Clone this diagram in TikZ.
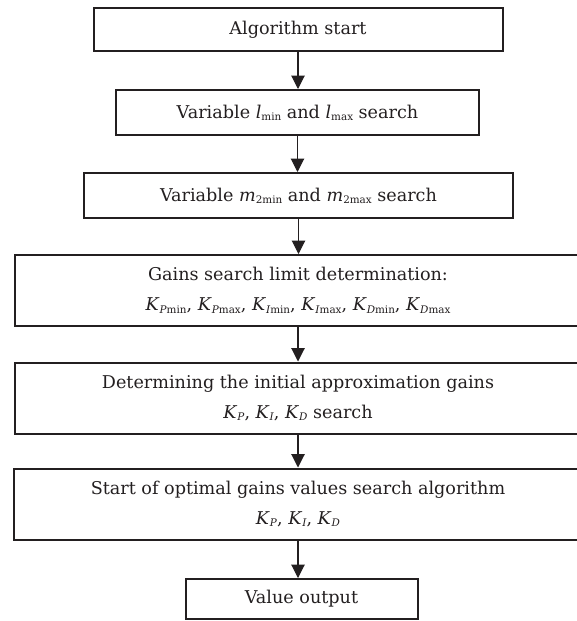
\documentclass[tikz,border=0pt]{standalone}
\usepackage{fontspec}
\setmainfont{DejaVu Serif}
\usetikzlibrary{arrows.meta}
\definecolor{ink}{HTML}{231F20}
\tikzset{
  flowbox/.style={draw=ink, line width=1.5pt, rectangle, inner sep=0pt, text=ink, align=center,
    font=\fontsize{13.2}{22.5}\selectfont},
  flowarrow/.style={draw=ink, line width=0.8pt, -{Triangle[width=10pt,length=10pt]}}
}
\newcommand{\sbs}[1]{\raisebox{-0.22ex}{\fontsize{7.8}{9}\selectfont #1}}
\begin{document}
\begin{tikzpicture}[x=0.75pt,y=-0.75pt]
\useasboundingbox (0,0) rectangle (577,621);
\node[flowbox, minimum width=409*0.75pt, minimum height=43*0.75pt] (b1) at (298,29.5) {Algorithm start};
\node[flowbox, minimum width=363*0.75pt, minimum height=45*0.75pt] (b2) at (297.5,112.5) {Variable \textit{l}\sbs{min} and \textit{l}\sbs{max} search};
\node[flowbox, minimum width=429*0.75pt, minimum height=45*0.75pt] (b3) at (298.5,195.5) {Variable \textit{m}\sbs{2min} and \textit{m}\sbs{2max} search};
\node[flowbox, minimum width=566*0.75pt, minimum height=71*0.75pt] (b4) at (298,290.5) {Gains search limit determination:\\
\textit{K}\sbs{\textit{P}min}, \textit{K}\sbs{\textit{P}max}, \textit{K}\sbs{\textit{I}min}, \textit{K}\sbs{\textit{I}max}, \textit{K}\sbs{\textit{D}min}, \textit{K}\sbs{\textit{D}max}};
\node[flowbox, minimum width=566*0.75pt, minimum height=71*0.75pt] (b5) at (298,398) {Determining the initial approximation gains\\
\textit{K}\sbs{\textit{P}}, \textit{K}\sbs{\textit{I}}, \textit{K}\sbs{\textit{D}} search};
\node[flowbox, minimum width=568*0.75pt, minimum height=71*0.75pt] (b6) at (298,504) {Start of optimal gains values search algorithm\\
\textit{K}\sbs{\textit{P}}, \textit{K}\sbs{\textit{I}}, \textit{K}\sbs{\textit{D}}};
\node[flowbox, minimum width=232*0.75pt, minimum height=40*0.75pt] (b7) at (301.5,599) {Value output};
\draw[flowarrow] (b1.south) -- (b2.north -| b1.south);
\draw[flowarrow] (b2.south) -- (b3.north -| b2.south);
\draw[flowarrow] (b3.south) -- (b4.north -| b3.south);
\draw[flowarrow] (b4.south) -- (b5.north -| b4.south);
\draw[flowarrow] (b5.south) -- (b6.north -| b5.south);
\draw[flowarrow] (b6.south) -- (b7.north -| b6.south);
\end{tikzpicture}
\end{document}
